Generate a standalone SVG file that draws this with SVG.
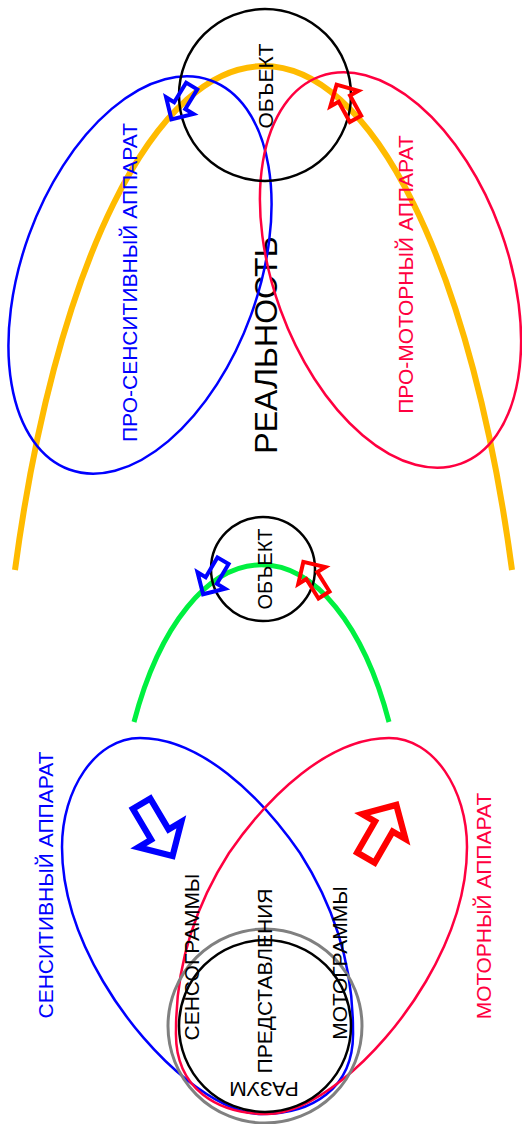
<svg xmlns="http://www.w3.org/2000/svg" xmlns:xlink="http://www.w3.org/1999/xlink" width="522" height="1124" viewBox="0 0 522 1124">
<style>
  text { font-family: "Liberation Sans", Arial, sans-serif; font-size: 21px; text-anchor: middle; }
  .k { fill: #000000; }
  .b { fill: #0000ff; }
  .r { fill: #ff0040; }
  .big { font-size: 32px; }
  .obj { fill: none; stroke: #000000; stroke-width: 2.5; }
  .gray { fill: none; stroke: #808080; stroke-width: 3; }
  .bl { fill: none; stroke: #0000ff; stroke-width: 2.5; }
  .rd { fill: none; stroke: #ff0040; stroke-width: 2.5; }
  .yel { fill: none; stroke: #ffbb00; stroke-width: 6; }
  .grn { fill: none; stroke: #00f040; stroke-width: 5; }
  .arB { fill: none; stroke: #0000ff; stroke-width: 4; stroke-linejoin: miter; stroke-miterlimit: 10; }
  .arR { fill: none; stroke: #ff0000; stroke-width: 4; stroke-linejoin: miter; stroke-miterlimit: 10; }
</style>
<defs>
  <polygon id="arrow" points="0,-6.5 23,-6.5 23,-16 39,0 23,16 23,6.5 0,6.5"/>
  <path id="egg" d="M140,738 C95,738 62,790 62,847 C62,940 130,1035 187,1080 C215,1102 240,1114 262,1114 C310,1114 355,1090 353,1030 C353,960 330,900 300,853 C260,795 200,738 140,738 Z"/>
</defs>
<rect x="0" y="0" width="522" height="1124" fill="#ffffff"/>

<g id="reality">
  <path class="yel" d="M15,570 A267.5,800 0 0 1 512,570"/>
  <text class="k big" transform="translate(277,345) rotate(-90)">РЕАЛЬНОСТЬ</text>
</g>

<g id="pro-sensitive">
  <ellipse class="bl" cx="140" cy="275" rx="118" ry="207" transform="rotate(20 140 275)"/>
  <text class="b" transform="translate(137,282.5) rotate(-90)">ПРО-СЕНСИТИВНЫЙ АППАРАТ</text>
</g>

<g id="pro-motor">
  <ellipse class="rd" cx="390.5" cy="270" rx="117" ry="206" transform="rotate(-20 390.5 270)"/>
  <text class="r" transform="translate(413,274.5) rotate(-90)">ПРО-МОТОРНЫЙ АППАРАТ</text>
</g>

<g id="object-top">
  <circle class="obj" cx="265" cy="95" r="86"/>
  <text class="k" transform="translate(273,86) rotate(-90)">ОБЪЕКТ</text>
</g>

<g id="object-lower">
  <path class="grn" d="M134,722 A145,300 0 0 1 389,722"/>
  <circle class="obj" cx="263" cy="569" r="52"/>
  <text class="k" style="font-size:20px" transform="translate(272,569) rotate(-90)">ОБЪЕКТ</text>
</g>

<g id="sensitive">
  <use xlink:href="#egg" href="#egg" class="bl"/>
  <text class="b" transform="translate(53,885) rotate(-90)">СЕНСИТИВНЫЙ АППАРАТ</text>
</g>

<g id="motor">
  <use xlink:href="#egg" href="#egg" class="rd" transform="translate(529,0) scale(-1,1)"/>
  <text class="r" transform="translate(491,906) rotate(-90)">МОТОРНЫЙ АППАРАТ</text>
</g>

<g id="mind">
  <circle class="gray" cx="265" cy="1026" r="97"/>
  <circle class="obj" cx="265" cy="1026" r="86"/>
  <text class="k" transform="translate(199,957) rotate(-90)">СЕНСОГРАММЫ</text>
  <text class="k" transform="translate(271.5,981) rotate(-90)">ПРЕДСТАВЛЕНИЯ</text>
  <text class="k" transform="translate(347,963) rotate(-90)">МОТОГРАММЫ</text>
  <text class="k" transform="translate(264,1082) rotate(180)">РАЗУМ</text>
</g>

<g id="connectors">
  <use xlink:href="#arrow" href="#arrow" class="arB" transform="translate(191.7,86) rotate(121.3)"/>
  <use xlink:href="#arrow" href="#arrow" class="arR" transform="translate(355.5,118.8) rotate(-119)"/>
  <use xlink:href="#arrow" href="#arrow" class="arB" transform="translate(223,560.7) rotate(120.7)"/>
  <use xlink:href="#arrow" href="#arrow" class="arR" transform="translate(324,595) rotate(-122)"/>
  <use xlink:href="#arrow" href="#arrow" class="arB" transform="translate(141.6,803.7) rotate(59.4) scale(1.56)"/>
  <use xlink:href="#arrow" href="#arrow" class="arR" transform="translate(365.9,857.6) rotate(-60) scale(1.56)"/>
</g>
</svg>
